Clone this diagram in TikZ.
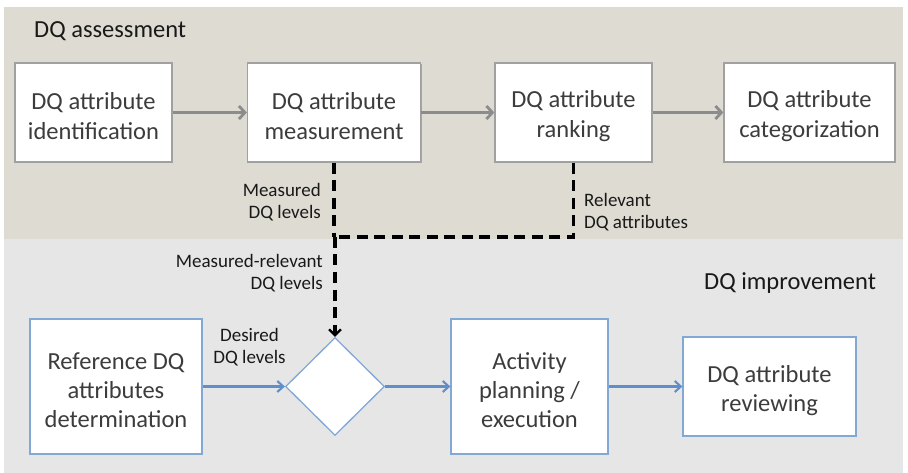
\documentclass[tikz,border=0pt]{standalone}
\usepackage{fontspec}
\setmainfont{Carlito}
\usetikzlibrary{arrows.meta,shapes.geometric,shadows}
\definecolor{topband}{RGB}{222,219,210}
\definecolor{botband}{RGB}{230,230,230}
\definecolor{grayline}{RGB}{160,160,160}
\definecolor{grayarrow}{RGB}{140,140,140}
\definecolor{blueline}{RGB}{130,168,214}
\definecolor{bluearrow}{RGB}{94,143,203}
\definecolor{boxtext}{RGB}{60,60,60}
\newcommand\upstrut{\rule{0pt}{25pt}}
\tikzset{
  topbox/.style={draw=grayline, line width=1.3pt, fill=white, minimum width=#1, align=center,
    text=boxtext, font=\fontsize{24.5}{30}\selectfont,
    drop shadow={shadow xshift=1.2pt, shadow yshift=-1.2pt, opacity=0.25, fill=black}},
  botbox/.style={draw=blueline, line width=1.3pt, fill=white, align=center,
    text=boxtext, font=\fontsize{24.5}{29}\selectfont,
    drop shadow={shadow xshift=1.2pt, shadow yshift=-1.2pt, opacity=0.25, fill=black}},
  grayflow/.style={draw=grayarrow, line width=3.6pt, -{Straight Barb[length=6pt,width=13pt,line width=2.8pt]}},
  blueflow/.style={draw=bluearrow, line width=2.5pt, -{Straight Barb[length=6pt,width=11pt,line width=2.1pt]}},
  dashflow/.style={draw=black, line width=3.1pt, dash pattern=on 11pt off 6.5pt},
  lbl/.style={font=\fontsize{19}{22}\selectfont, text=black!90},
  hdr/.style={font=\fontsize{24.5}{28}\selectfont, text=black!90, inner sep=0pt},
}
\begin{document}
\begin{tikzpicture}[x=1pt,y=-1pt]
\useasboundingbox (0,0) rectangle (908,473);
\fill[white] (0,0) rectangle (908,473);
\fill[topband] (4,7) rectangle (903,239);
\fill[botband] (4,239) rectangle (903,473);

\node[hdr, anchor=base west] (h1) at (34,38) {DQ assessment};
\node[hdr, anchor=base west] (h2) at (704,290) {DQ improvement};

\node[topbox, minimum width=157pt, minimum height=99pt, inner sep=0pt] (b1) at (93.5,112.5) {\upstrut DQ attribute\\identification};
\node[topbox, minimum width=173pt, minimum height=99pt, inner sep=0pt] (b2) at (334,112.5) {\upstrut DQ attribute\\measurement};
\node[topbox, minimum width=157pt, minimum height=99pt, inner sep=0pt] (b3) at (573.5,112.5) {\upstrut DQ attribute\\ranking};
\node[topbox, minimum width=171pt, minimum height=99pt, inner sep=0pt] (b4) at (809.5,112.5) {\upstrut DQ attribute\\categorization};

\draw[grayflow] (b1.east) -- (b2.west);
\draw[grayflow] (b2.east) -- (b3.west);
\draw[grayflow] (b3.east) -- (b4.west);

\node[botbox, minimum width=172pt, minimum height=135pt, inner sep=0pt] (r1) at (116,386.5) {\upstrut Reference DQ\\attributes\\determination};
\node[diamond, draw=blueline, line width=1.3pt, fill=white, minimum width=99pt, minimum height=98pt, inner sep=0pt] (d) at (335,386.5) {};
\node[botbox, minimum width=157pt, minimum height=135pt, inner sep=0pt] (r2) at (529.5,386.5) {\upstrut Activity\\planning /\\execution};
\node[botbox, minimum width=173pt, minimum height=99pt, inner sep=0pt] (r3) at (769.5,386.5) {\upstrut DQ attribute\\reviewing};

\draw[blueflow] (r1.east) -- (d.west);
\draw[blueflow] (d.east) -- (r2.west);
\draw[blueflow] (r2.east) -- (r3.west);

\coordinate (j) at (335,237);
\coordinate (k) at (573.5,237);
\draw[dashflow] (b2.south) -- (b2.south |- j);
\draw[dashflow] (b3.south) -- (k) -- (j);
\draw[dashflow, -{Straight Barb[length=6pt,width=12pt,line width=2.2pt]}] (j) -- (d.north);

\node[lbl, align=right, anchor=east, inner sep=0pt] (l1) at (321,202) {Measured\\DQ levels};
\node[lbl, align=left, anchor=west, inner sep=0pt] (l2) at (584,212) {Relevant\\DQ attributes};
\node[lbl, align=right, anchor=east, inner sep=0pt] (l3) at (323,273) {Measured-relevant\\DQ levels};
\node[lbl, align=center, inner sep=0pt] (l4) at (249.5,347) {Desired\\DQ levels};
\end{tikzpicture}
\end{document}
